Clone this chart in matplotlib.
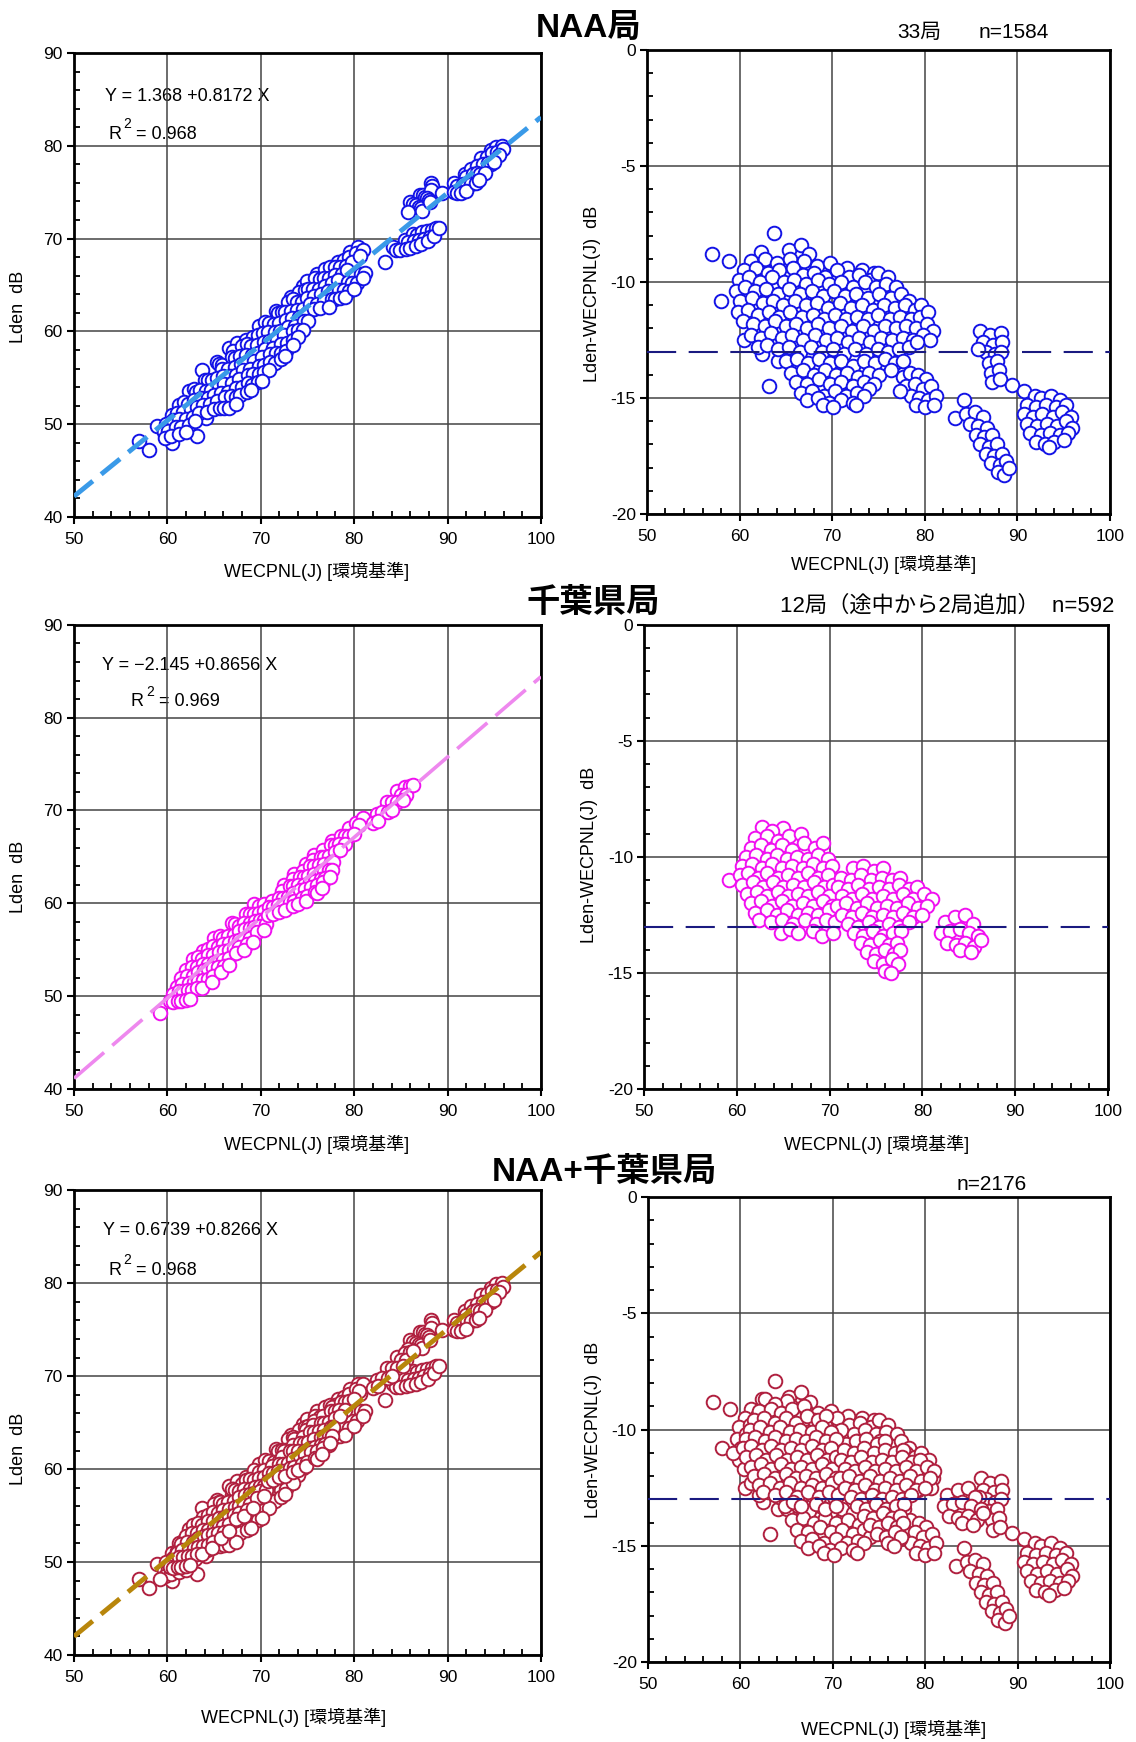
import numpy as np
import matplotlib.pyplot as plt
from matplotlib.ticker import MultipleLocator

plt.rcParams['font.family'] = ['Liberation Sans', 'Noto Sans CJK JP']
plt.rcParams['axes.unicode_minus'] = False

# (WECPNL, Lden-WECPNL) pairs, read station by station
naa_outliers = [(57.0, -8.8), (58.9, -9.1), (58.0, -10.8), (63.7, -7.9), (60.5, -12.5),
                (62.4, -13.1), (63.2, -14.5), (64.1, -13.4)]

naa_main = [
    (62.3, -8.7), (65.3, -8.6), (66.6, -8.4), (67.5, -8.8),
    (61.2, -9.1), (62.8, -9.0), (64.0, -9.2), (65.5, -9.0), (67.0, -9.1), (68.4, -9.3), (69.8, -9.2),
    (71.6, -9.4), (73.2, -9.5), (74.5, -9.6),
    (60.5, -9.5), (61.8, -9.4), (63.1, -9.6), (64.3, -9.5), (65.8, -9.4), (66.9, -9.7), (68.0, -9.6),
    (69.2, -9.8), (70.5, -9.5), (71.8, -9.8), (72.9, -9.7), (74.1, -9.9), (75.0, -9.6), (76.0, -9.8),
    (59.9, -9.9), (61.0, -9.8), (62.2, -10.0), (63.5, -9.8), (64.8, -10.0), (65.9, -9.9), (67.2, -10.1),
    (68.5, -9.9), (69.7, -10.1), (70.9, -10.0), (72.3, -10.2), (73.5, -10.0), (74.7, -10.2), (75.8, -10.1),
    (76.9, -10.2),
    (59.6, -10.4), (60.6, -10.2), (61.7, -10.4), (62.9, -10.3), (64.1, -10.5), (65.3, -10.3), (66.5, -10.5),
    (67.8, -10.4), (69.0, -10.6), (70.2, -10.4), (71.4, -10.6), (72.6, -10.5), (73.9, -10.7), (75.1, -10.5),
    (76.3, -10.7), (77.4, -10.5), (78.3, -10.8),
    (60.1, -10.8), (61.3, -10.7), (62.5, -10.9), (63.6, -10.8), (64.7, -11.0), (66.0, -10.8), (67.2, -11.0),
    (68.4, -10.9), (69.6, -11.1), (70.8, -10.9), (72.0, -11.1), (73.2, -11.0), (74.4, -11.2), (75.6, -11.0),
    (76.8, -11.1), (77.9, -11.0), (78.9, -11.2), (79.6, -11.0),
    (59.8, -11.3), (60.9, -11.2), (62.0, -11.4), (63.2, -11.3), (64.3, -11.5), (65.5, -11.3), (66.7, -11.5),
    (67.9, -11.4), (69.1, -11.6), (70.3, -11.4), (71.5, -11.6), (72.7, -11.5), (73.9, -11.6), (75.0, -11.4),
    (76.2, -11.6), (77.3, -11.5), (78.5, -11.6), (79.5, -11.5), (80.4, -11.3),
    (60.4, -11.7), (61.5, -11.8), (62.7, -11.9), (63.8, -11.7), (65.0, -11.9), (66.1, -11.8), (67.3, -12.0),
    (68.5, -11.8), (69.7, -12.0), (70.9, -11.9), (72.1, -12.1), (73.3, -11.9), (74.5, -12.1), (75.7, -11.9),
    (76.9, -12.0), (78.0, -11.9), (79.1, -12.0), (80.2, -11.8), (80.9, -12.1),
    (61.2, -12.3), (62.3, -12.4), (63.4, -12.2), (64.6, -12.4), (65.7, -12.3), (66.9, -12.5), (68.1, -12.3),
    (69.3, -12.5), (70.5, -12.4), (71.7, -12.6), (72.9, -12.4), (74.1, -12.6), (75.3, -12.4), (76.5, -12.5),
    (77.6, -12.4), (78.7, -12.5), (79.8, -12.3), (80.6, -12.5),
    (62.0, -12.8), (63.0, -12.7), (64.2, -12.9), (65.3, -12.8), (66.5, -13.0), (67.7, -12.8), (68.9, -13.0),
    (70.1, -12.9), (71.3, -13.1), (72.5, -12.9), (73.7, -13.1), (74.9, -12.9), (76.0, -13.0), (77.2, -12.9),
    (78.3, -12.8), (79.2, -12.6),
    (65.0, -13.4), (66.2, -13.3), (67.4, -13.5), (68.6, -13.3), (69.8, -13.5), (71.0, -13.4), (72.2, -13.6),
    (73.4, -13.4), (74.6, -13.5), (75.7, -13.3), (76.8, -13.5), (77.7, -13.4),
    (65.6, -13.9), (66.8, -13.8), (68.0, -14.0), (69.2, -13.8), (70.4, -14.0), (71.6, -13.9), (72.8, -14.1),
    (74.0, -13.9), (75.1, -14.0), (76.3, -13.8),
    (66.1, -14.3), (67.3, -14.4), (68.6, -14.2), (69.8, -14.4), (71.0, -14.3), (72.2, -14.5), (73.4, -14.3),
    (74.5, -14.4),
    (66.6, -14.8), (67.8, -14.7), (69.1, -14.9), (70.3, -14.7), (71.5, -14.9), (72.7, -14.8), (74.0, -14.6),
    (67.3, -15.1), (68.5, -15.0), (69.7, -15.2), (70.9, -15.1), (72.2, -15.2), (73.4, -14.9),
    (69.0, -15.3), (70.1, -15.4), (72.6, -15.3),
]

naa_low80 = [(77.6, -14.1), (78.4, -13.9), (79.3, -14.0), (80.1, -14.2), (78.0, -14.5), (78.9, -14.4),
             (79.8, -14.6), (80.7, -14.5), (78.5, -14.9), (79.4, -15.0), (80.3, -15.1), (81.2, -14.9),
             (79.0, -15.3), (80.0, -15.4), (81.0, -15.3), (77.3, -14.7)]

naa_col87 = [(86.0, -12.1), (87.0, -12.3), (88.2, -12.2), (86.3, -12.6), (87.4, -12.7), (88.3, -12.6),
             (86.6, -13.0), (87.6, -13.1), (88.2, -13.0), (86.9, -13.5), (87.8, -13.4), (87.2, -13.9),
             (88.0, -13.8), (87.3, -14.3), (88.1, -14.2), (85.8, -12.9),
             (89.4, -14.45), (90.7, -14.7), (91.9, -14.9)]

naa_diag = [(84.2, -15.1), (83.3, -15.85), (84.5, -15.7), (85.4, -15.6), (86.3, -15.8), (84.9, -16.1),
            (85.8, -16.2), (86.7, -16.3), (85.5, -16.6), (86.4, -16.7), (87.3, -16.6), (86.0, -17.0),
            (86.9, -17.1), (87.8, -17.0), (86.6, -17.4), (87.5, -17.5), (88.3, -17.4), (87.2, -17.8),
            (88.1, -17.9), (88.8, -17.7), (87.9, -18.2), (88.6, -18.3), (89.1, -18.0)]

naa_high = [(92.5, -15.0), (93.6, -14.9), (94.6, -15.1),
            (91.0, -15.3), (92.0, -15.4), (93.1, -15.3), (94.2, -15.4), (95.2, -15.3),
            (90.7, -15.7), (91.7, -15.8), (92.7, -15.7), (93.8, -15.8), (94.8, -15.6), (95.8, -15.8),
            (91.0, -16.1), (92.1, -16.2), (93.2, -16.1), (94.3, -16.2), (95.3, -16.0), (95.9, -16.3),
            (91.4, -16.5), (92.5, -16.6), (93.5, -16.5), (94.6, -16.6), (95.5, -16.5),
            (92.0, -16.9), (93.0, -17.0), (94.0, -16.9), (95.0, -16.8), (93.4, -17.1)]

chiba_low = [
    (59.2, -11.0),
    (62.7, -8.7), (65.0, -8.75), (63.8, -8.9),
    (62.0, -9.2), (63.3, -9.1), (64.4, -9.3), (65.6, -9.1), (66.9, -9.0),
    (61.5, -9.6), (62.6, -9.5), (63.7, -9.7), (64.9, -9.5), (66.0, -9.7), (67.2, -9.4), (68.4, -9.6),
    (69.3, -9.4),
    (61.0, -10.0), (62.1, -9.9), (63.2, -10.1), (64.3, -9.9), (65.4, -10.1), (66.5, -10.0), (67.7, -10.1),
    (68.8, -9.9), (69.8, -10.1),
    (60.6, -10.4), (61.6, -10.3), (62.7, -10.5), (63.8, -10.3), (64.9, -10.5), (66.0, -10.4), (67.1, -10.5),
    (68.2, -10.3), (69.3, -10.5), (70.3, -10.4),
    (60.3, -10.8), (61.2, -10.7), (62.3, -10.9), (63.3, -10.7), (64.4, -10.9), (65.5, -10.8), (66.6, -10.9),
    (67.7, -10.7), (68.8, -10.9), (69.8, -10.8),
    (60.6, -11.2), (61.7, -11.1), (62.8, -11.3), (63.9, -11.1), (65.0, -11.3), (66.1, -11.2), (67.2, -11.3),
    (68.3, -11.1), (69.4, -11.3), (70.4, -11.2),
    (61.1, -11.6), (62.2, -11.5), (63.3, -11.7), (64.4, -11.5), (65.5, -11.7), (66.6, -11.6), (67.7, -11.7),
    (68.8, -11.5), (69.9, -11.7),
    (61.5, -12.0), (62.6, -11.9), (63.8, -12.1), (64.9, -11.9), (66.0, -12.1), (67.1, -12.0), (68.2, -12.1),
    (69.3, -11.9), (70.3, -12.1),
    (62.0, -12.4), (63.2, -12.3), (64.3, -12.5), (65.4, -12.3), (66.6, -12.5), (67.7, -12.4), (68.8, -12.5),
    (69.9, -12.3),
    (62.4, -12.7), (63.7, -12.8), (64.9, -12.7), (66.1, -12.9), (67.3, -12.7), (68.5, -12.9), (69.6, -12.7),
    (70.6, -12.8),
    (64.8, -13.3), (65.7, -13.1), (66.6, -13.3), (68.2, -13.2), (69.2, -13.4), (70.4, -13.3),
]

chiba_mid = [
    (72.5, -10.5), (73.6, -10.4), (74.8, -10.6), (75.7, -10.5),
    (71.2, -10.9), (72.3, -11.0), (73.4, -10.8), (74.5, -11.0), (75.6, -10.9), (76.7, -11.0), (77.6, -10.9),
    (70.9, -11.3), (72.0, -11.4), (73.1, -11.2), (74.2, -11.4), (75.3, -11.3), (76.4, -11.4), (77.5, -11.2),
    (78.6, -11.4), (79.4, -11.3),
    (71.3, -11.7), (72.4, -11.8), (73.5, -11.6), (74.6, -11.8), (75.7, -11.7), (76.8, -11.8), (77.9, -11.6),
    (79.0, -11.8), (80.2, -11.6), (81.0, -11.8),
    (70.8, -12.1), (71.8, -12.0), (72.9, -12.2), (74.0, -12.0), (75.1, -12.2), (76.2, -12.1), (77.3, -12.2),
    (78.4, -12.0), (79.5, -12.2), (80.5, -12.1),
    (71.3, -12.5), (72.4, -12.6), (73.5, -12.4), (74.6, -12.6), (75.7, -12.5), (76.8, -12.6), (77.9, -12.4),
    (79.0, -12.6), (80.0, -12.5),
    (72.0, -12.9), (73.1, -13.0), (74.2, -12.8), (75.3, -13.0), (76.4, -12.9), (77.5, -13.0), (78.5, -12.8),
    (72.6, -13.3), (73.6, -13.4), (74.7, -13.2), (75.8, -13.4), (76.8, -13.3), (77.7, -13.2),
    (73.4, -13.7), (74.4, -13.8), (75.4, -13.6), (76.4, -13.8), (77.3, -13.7),
    (74.0, -14.1), (75.0, -14.2), (76.0, -14.0), (76.9, -14.2), (77.6, -14.0),
    (74.8, -14.5), (75.8, -14.6), (76.7, -14.4), (77.4, -14.6),
    (76.0, -14.9), (76.6, -15.0),
]

chiba_high = [(82.4, -12.8), (83.5, -12.6), (84.6, -12.5), (85.4, -12.9), (82.0, -13.3), (83.0, -13.2),
              (84.0, -13.1), (85.0, -13.3), (86.0, -13.4), (82.6, -13.7), (83.6, -13.8), (84.6, -13.7),
              (85.6, -13.9), (86.3, -13.6), (84.0, -14.0), (85.2, -14.1)]

# regression results: intercept, slope, R^2
fit_naa = (1.368, 0.8172, 0.968)
fit_chiba = (-2.145, 0.8656, 0.969)
fit_all = (0.6739, 0.8266, 0.968)

naa = np.array(naa_outliers + naa_main + naa_low80 + naa_col87 + naa_diag + naa_high)
chiba = np.array(chiba_low + chiba_mid + chiba_high)
both = np.vstack([naa, chiba])

xlab = 'WECPNL(J) [環境基準]'

fig = plt.figure(figsize=(11.36, 17.42), dpi=100)


def frame(ax, ylim, yminor, yticks):
    ax.set_xlim(50, 100)
    ax.set_ylim(*ylim)
    ax.xaxis.set_major_locator(MultipleLocator(10))
    ax.xaxis.set_minor_locator(MultipleLocator(2))
    ax.set_yticks(yticks)
    ax.yaxis.set_minor_locator(MultipleLocator(yminor))
    ax.grid(True, which='major', color='#444444', lw=1.1)
    for s in ax.spines.values():
        s.set_linewidth(2)
    ax.tick_params(which='major', direction='out', length=5, width=1.5, labelsize=12.5, pad=3)
    ax.tick_params(which='minor', direction='in', length=4, width=1.3)
    ax.tick_params(axis='x', which='major', pad=6)


rows = [
    dict(pts=naa, color='#1414e6', lcolor='#3a9ae8', lw=3.5, dash=(5, 2.2), fit=fit_naa,
         eq='Y = 1.368 +0.8172 X', eq_pos=(0.066, 0.907), r2_pos=(0.073, 0.825),
         lpos=[0.0651, 0.7032, 0.4111, 0.2664], rpos=[0.5695, 0.7049, 0.4076, 0.2664],
         ylab_l=0.453, ylab_r=0.474, xlab_l=(0.52, -0.097), xlab_r=(0.51, -0.088)),
    dict(pts=chiba, color='#f010f0', lcolor='#ee88ee', lw=2.6, dash=(11, 3), fit=fit_chiba,
         eq='Y = −2.145 +0.8656 X', eq_pos=(0.060, 0.912), r2_pos=(0.122, 0.834),
         lpos=[0.0651, 0.3749, 0.4111, 0.2664], rpos=[0.5669, 0.3749, 0.4085, 0.2664],
         ylab_l=0.457, ylab_r=0.504, xlab_l=(0.52, -0.099), xlab_r=(0.502, -0.099)),
    dict(pts=both, color='#b0203f', lcolor='#b8860b', lw=3.5, dash=(5, 2.2), fit=fit_all,
         eq='Y = 0.6739 +0.8266 X', eq_pos=(0.062, 0.914), r2_pos=(0.073, 0.828),
         lpos=[0.0651, 0.0499, 0.4111, 0.2669], rpos=[0.5704, 0.0459, 0.4067, 0.2669],
         ylab_l=0.443, ylab_r=0.499, xlab_l=(0.47, -0.114), xlab_r=(0.532, -0.125)),
]

xs = np.array([50, 100])
for r in rows:
    w = r['pts'][:, 0]
    d = r['pts'][:, 1]
    lden = w + d

    # Lden against WECPNL with the fitted line
    ax = fig.add_axes(r['lpos'])
    frame(ax, (40, 90), 2, [40, 50, 60, 70, 80, 90])
    ax.scatter(w, lden, s=96, facecolors='white', edgecolors=r['color'], linewidths=1.4, zorder=3)
    a, b, r2 = r['fit']
    ax.plot(xs, a + b * xs, color=r['lcolor'], lw=r['lw'], dashes=r['dash'], zorder=4)
    ax.text(*r['eq_pos'], r['eq'], transform=ax.transAxes, fontsize=13, va='center', zorder=0.5)
    # R^2 with a raised, spaced-out exponent
    rx, ry = r['r2_pos']
    ax.text(rx, ry, 'R', transform=ax.transAxes, fontsize=13, va='center', zorder=0.5)
    ax.text(rx + 0.032, ry + 0.022, '2', transform=ax.transAxes, fontsize=10, va='center', zorder=0.5)
    ax.text(rx + 0.06, ry, f'= {r2:.3f}', transform=ax.transAxes, fontsize=13, va='center', zorder=0.5)
    ax.set_ylabel('Lden  dB', fontsize=13)
    ax.yaxis.set_label_coords(-0.10, r['ylab_l'])
    ax.set_xlabel(xlab, fontsize=13)
    ax.xaxis.set_label_coords(*r['xlab_l'])

    # difference Lden - WECPNL
    ax = fig.add_axes(r['rpos'])
    frame(ax, (-20, 0), 1, [-20, -15, -10, -5, 0])
    ax.scatter(w, d, s=96, facecolors='white', edgecolors=r['color'], linewidths=1.4, zorder=3)
    ax.axhline(-13, color='#1a1a80', lw=1.5, dashes=(14, 6), zorder=4)
    ax.set_ylabel('Lden-WECPNL(J)  dB', fontsize=13)
    ax.yaxis.set_label_coords(-0.10, r['ylab_r'])
    ax.set_xlabel(xlab, fontsize=13)
    ax.xaxis.set_label_coords(*r['xlab_r'])

W, H = 1136, 1742
fig.text(589 / W, 1 - 28 / H, 'NAA局', ha='center', va='center', fontsize=24, fontweight='bold')
fig.text(897 / W, 1 - 33 / H, '33局', ha='left', va='center', fontsize=15)
fig.text(979 / W, 1 - 33 / H, 'n=1584', ha='left', va='center', fontsize=15)
fig.text(593 / W, 1 - 603 / H, '千葉県局', ha='center', va='center', fontsize=24, fontweight='bold')
fig.text(1114 / W, 1 - 606 / H, '12局（途中から2局追加）  n=592', ha='right', va='center', fontsize=16)
fig.text(604 / W, 1 - 1172 / H, 'NAA+千葉県局', ha='center', va='center', fontsize=24, fontweight='bold')
fig.text(957 / W, 1 - 1184 / H, 'n=2176', ha='left', va='center', fontsize=15)

fig.savefig('out.png', dpi=100)
